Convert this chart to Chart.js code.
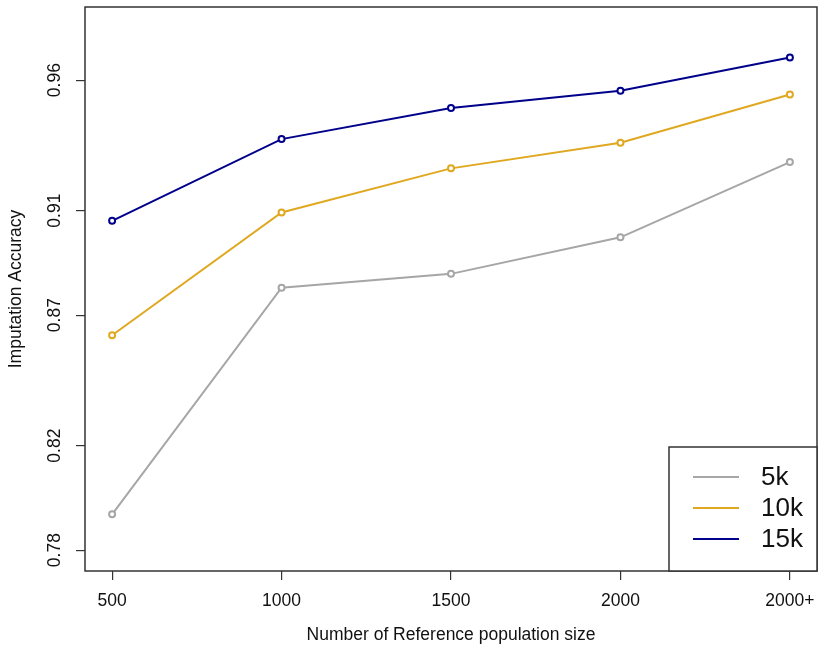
<!DOCTYPE html>
<html>
<head>
<meta charset="utf-8">
<script src="https://cdn.jsdelivr.net/npm/chart.js@4.4.1/dist/chart.umd.min.js"></script>
<style>
  html, body { margin: 0; padding: 0; background: #fff; }
  #wrap { width: 827px; height: 662px; }
</style>
</head>
<body>
<div id="wrap"><canvas id="accChart"></canvas></div>
<script>
// reference panel sizes on the x axis
const categories = ['500', '1000', '1500', '2000', '2000+'];
const yTicks = [0.78, 0.82, 0.87, 0.91, 0.96];

const acc5k = [0.7937, 0.8805, 0.8858, 0.8998, 0.9286];
const acc10k = [0.8623, 0.9093, 0.9262, 0.9360, 0.9545];
const acc15k = [0.9061, 0.9374, 0.9493, 0.9559, 0.9687];

const FONT = 'Arial, "Liberation Sans", sans-serif';
const toPoints = arr => arr.map((v, i) => ({ x: i + 1, y: v }));

const makeSet = (label, values, color) => ({
  label: label,
  data: toPoints(values),
  borderColor: color,
  backgroundColor: color,
  pointBackgroundColor: '#fff',
  pointBorderColor: color,
  pointRadius: 3,
  pointBorderWidth: 2,
  borderWidth: 2,
  tension: 0
});

// box around plot + legend in the lower right corner
const framePlugin = {
  id: 'frame',
  afterDraw(chart) {
    const { ctx, chartArea: a } = chart;
    ctx.save();
    ctx.strokeStyle = '#333';
    ctx.lineWidth = 1.5;
    ctx.strokeRect(a.left, a.top, a.right - a.left, a.bottom - a.top);

    const w = 148, h = 124;
    const bx = a.right - w, by = a.bottom - h;
    ctx.fillStyle = '#fff';
    ctx.fillRect(bx, by, w, h);
    ctx.strokeRect(bx, by, w, h);
    ctx.font = '26px ' + FONT;
    ctx.textBaseline = 'middle';
    ctx.textAlign = 'left';
    chart.data.datasets.forEach((ds, i) => {
      const y = by + 30 + i * 31;
      ctx.strokeStyle = ds.borderColor;
      ctx.lineWidth = 2;
      ctx.beginPath();
      ctx.moveTo(bx + 24, y);
      ctx.lineTo(bx + 70, y);
      ctx.stroke();
      ctx.fillStyle = '#111';
      ctx.fillText(ds.label, bx + 92, y + 1);
    });
    ctx.restore();
  }
};

new Chart(document.getElementById('accChart'), {
  type: 'line',
  data: {
    datasets: [
      makeSet('5k', acc5k, '#a6a6a6'),
      makeSet('10k', acc10k, '#e0a820'),
      makeSet('15k', acc15k, '#00008b')
    ]
  },
  options: {
    responsive: true,
    maintainAspectRatio: false,
    animation: false,
    layout: { padding: { left: 0, top: 7, right: 10, bottom: 0 } },
    plugins: {
      legend: { display: false },
      tooltip: { enabled: false }
    },
    scales: {
      x: {
        type: 'linear',
        min: 0.84,
        max: 5.16,
        afterBuildTicks: s => { s.ticks = categories.map((c, i) => ({ value: i + 1 })); },
        afterFit: s => { s.height = 91; s.paddingLeft = 0; s.paddingRight = 0; },
        grid: { drawOnChartArea: false, drawTicks: true, tickLength: 9, color: '#333', lineWidth: 1.2 },
        border: { display: false },
        ticks: {
          padding: 11,
          color: '#111',
          font: { family: FONT, size: 17.5 },
          callback: v => categories[v - 1]
        },
        title: {
          display: true,
          text: 'Number of Reference population size',
          color: '#111',
          font: { family: FONT, size: 17.5 },
          padding: { top: 0, bottom: 16 }
        }
      },
      y: {
        min: 0.772,
        max: 0.988,
        afterBuildTicks: s => { s.ticks = yTicks.map(v => ({ value: v })); },
        afterFit: s => { s.width = 85; s.paddingTop = 0; s.paddingBottom = 0; },
        grid: { drawOnChartArea: false, drawTicks: true, tickLength: 9, color: '#333', lineWidth: 1.2 },
        border: { display: false },
        ticks: {
          minRotation: 90,
          maxRotation: 90,
          crossAlign: 'center',
          padding: 4,
          color: '#111',
          font: { family: FONT, size: 17.5 },
          callback: v => v.toFixed(2)
        },
        title: {
          display: true,
          text: 'Imputation Accuracy',
          color: '#111',
          font: { family: FONT, size: 17.5 },
          padding: { top: 6, bottom: 0 }
        }
      }
    }
  },
  plugins: [framePlugin]
});
</script>
</body>
</html>
